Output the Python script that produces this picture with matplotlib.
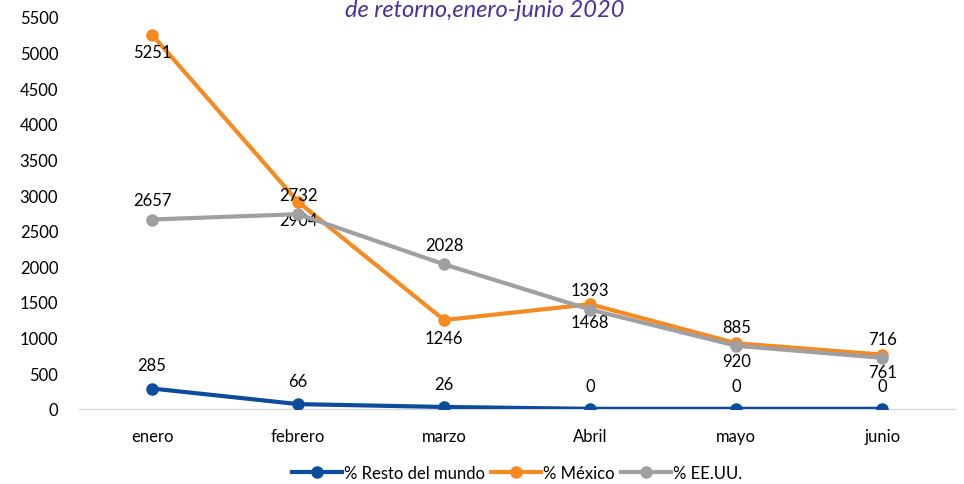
import numpy as np
import matplotlib.pyplot as plt

plt.rcParams['font.family'] = ['Lato', 'DejaVu Sans']

meses = ['enero', 'febrero', 'marzo', 'Abril', 'mayo', 'junio']
resto_mundo = [285, 66, 26, 0, 0, 0]
mexico = [5251, 2904, 1246, 1468, 920, 761]
eeuu = [2657, 2732, 2028, 1393, 885, 716]

c_resto = '#0B4C9C'
c_mex = '#F58B20'
c_usa = '#A0A0A3'
fs = 12

fig = plt.figure(figsize=(9.64, 4.85), dpi=100)
ax = fig.add_axes([0.082, 0.155, 0.909, 0.808])

x = np.arange(len(meses))
ax.plot(x, resto_mundo, '-o', color=c_resto, lw=3, ms=8, label='% Resto del mundo', zorder=3)
ax.plot(x, mexico, '-o', color=c_mex, lw=3, ms=8, label='% México', zorder=3)
ax.plot(x, eeuu, '-o', color=c_usa, lw=3, ms=8, label='% EE.UU.', zorder=4)

# etiquetas de datos
for xi, v in zip(x, resto_mundo):
    ax.annotate(str(v), (xi, v), xytext=(0, 11), textcoords='offset points',
                ha='center', va='bottom', fontsize=fs)
for xi, v in zip(x, mexico):
    ax.annotate(str(v), (xi, v), xytext=(0, -7), textcoords='offset points',
                ha='center', va='top', fontsize=fs)
for xi, v in zip(x, eeuu):
    ax.annotate(str(v), (xi, v), xytext=(0, 8), textcoords='offset points',
                ha='center', va='bottom', fontsize=fs)

ax.set_xlim(-0.5, 5.5)
ax.set_ylim(0, 5500)
ax.set_yticks(np.arange(0, 5501, 500))
ax.set_xticks(x)
ax.set_xticklabels(meses)
ax.tick_params(axis='both', length=0, labelsize=fs)
ax.tick_params(axis='x', pad=14)
ax.tick_params(axis='y', pad=15)
for s in ['top', 'right', 'left']:
    ax.spines[s].set_visible(False)
ax.spines['bottom'].set_color('#D9D9D9')
ax.spines['bottom'].set_linewidth(1)

ax.legend(loc='lower center', bbox_to_anchor=(0.5, -0.2), ncol=3, frameon=False,
          fontsize=fs, handlelength=3.0, handletextpad=0.1, columnspacing=0.4,
          borderaxespad=0)

fig.text(0.503, 0.978, 'de retorno,enero-junio 2020', ha='center', va='center',
         fontsize=17, style='italic', color='#4B2F9B')

fig.savefig('out.png', dpi=100)
